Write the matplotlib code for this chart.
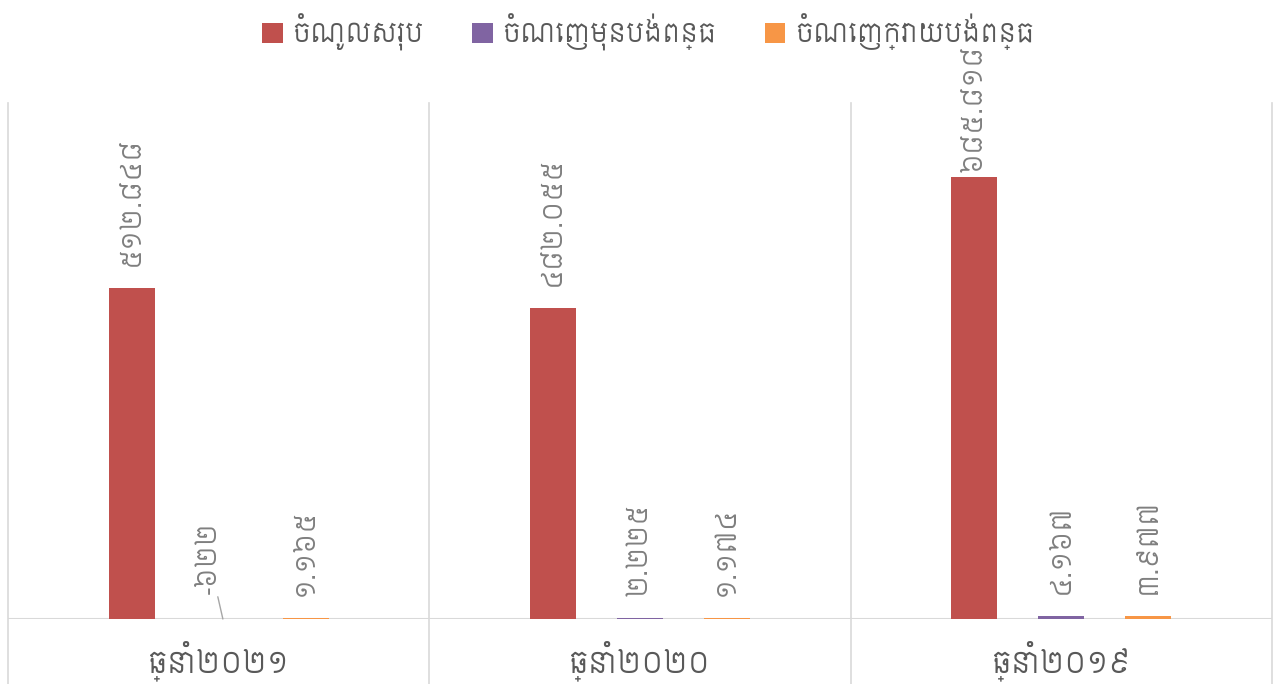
import matplotlib
matplotlib.use("Agg")
import matplotlib.pyplot as plt
import matplotlib.transforms as mtransforms
from matplotlib import font_manager
from matplotlib.patches import Patch

# ---------------- data ----------------
categories = ["ឆ្នាំ២០២១", "ឆ្នាំ២០២០", "ឆ្នាំ២០១៩"]
series_names = ["ចំណូលសរុប", "ចំណេញមុនបង់ពន្ធ", "ចំណេញក្រោយបង់ពន្ធ"]
revenue = [512848, 482055, 685818]
profit_before_tax = [-622, 2225, 4167]
profit_after_tax = [1165, 1174, 3977]
label_revenue = ["៥១២.៨៤៨", "៤៨២.០៥៥", "៦៨៥.៨១៨"]
label_before = ["-៦២២", "២.២២៥", "៤.១៦៧"]
label_after = ["១.១៦៥", "១.១៧៤", "៣.៩៧៧"]

colors = ["#C0504D", "#8064A2", "#F79646"]

# ---------------- font with Khmer glyphs ----------------
available = {fe.name for fe in font_manager.fontManager.ttflist}
khmer_family = None
for cand in ["Siemreap", "Khmer OS Siemreap", "Content", "Chenla", "Battambang", "Hanuman"]:
    if cand in available:
        khmer_family = cand
        break
families = ([khmer_family] if khmer_family else []) + ["DejaVu Sans"]
plt.rcParams["font.family"] = families

# ---------------- figure ----------------
W, H = 1282, 684
fig = plt.figure(figsize=(W / 100, H / 100), dpi=100)
ax_left, ax_right, ax_top, ax_bottom = 8, 1272, 103, 619
ax = fig.add_axes([ax_left / W, (H - ax_bottom) / H,
                   (ax_right - ax_left) / W, (ax_bottom - ax_top) / H])

ymax = 800000
ax.set_xlim(-0.5, 2.5)
ax.set_ylim(0, ymax)

x = list(range(len(categories)))
width = 0.109
offset = 0.2067
all_series = [revenue, profit_before_tax, profit_after_tax]
all_labels = [label_revenue, label_before, label_after]
for i, (vals, col) in enumerate(zip(all_series, colors)):
    xs = [xi + (i - 1) * offset for xi in x]
    ax.bar(xs, vals, width=width, color=col, zorder=3)

# data labels
px_per_data = (ax_bottom - ax_top) / ymax
gap = 22 / px_per_data
label_top_limit = (ax_bottom - 46) / px_per_data
lab_color = "#7F7F7F"
lab_fs = 19
for i, (vals, labs) in enumerate(zip(all_series, all_labels)):
    for xi, v, lab in zip(x, vals, labs):
        xc = xi + (i - 1) * offset
        if v < 0:
            ax.annotate(lab, xy=(xc + 0.01, 0), xytext=(-14, 25), textcoords="offset pixels",
                        rotation=90, ha="center", va="bottom", fontsize=lab_fs,
                        color=lab_color, annotation_clip=False,
                        arrowprops=dict(arrowstyle="-", color="#A6A6A6", lw=1,
                                        shrinkA=0, shrinkB=0))
            continue
        base = max(v, 0) + gap
        tlen = len(lab) * 18 / px_per_data
        if base + tlen > label_top_limit:
            base = max(v, label_top_limit - tlen)
        ax.text(xc, base, lab, rotation=90, ha="center", va="bottom",
                fontsize=lab_fs, color=lab_color, clip_on=False, zorder=4)

# styling
for s in ax.spines.values():
    s.set_visible(False)
ax.set_xticks([])
ax.set_yticks([])
ax.axhline(0, color="#D9D9D9", lw=1.5, zorder=2)

trans = mtransforms.blended_transform_factory(ax.transData, ax.transAxes)
ext = (H - ax_bottom) / (ax_bottom - ax_top)
for b in [-0.5, 0.5, 1.5, 2.5]:
    ax.plot([b, b], [-ext, 1], transform=trans, color="#D9D9D9", lw=1.2,
            clip_on=False, zorder=1)

# category labels
for xi, c in zip(x, categories):
    ax.text(xi, -(661 - ax_bottom) / (ax_bottom - ax_top), c, transform=trans,
            ha="center", va="center", fontsize=21, color="#595959")

# legend
handles = [Patch(facecolor=c, edgecolor="none") for c in colors]
fig.legend(handles, series_names, loc="center", bbox_to_anchor=(648 / W, 1 - 32 / H),
           ncol=3, frameon=False, fontsize=19, labelcolor="#595959",
           handlelength=0.78, handleheight=0.8, handletextpad=0.35, columnspacing=1.85)

fig.savefig("out.png", dpi=100)
